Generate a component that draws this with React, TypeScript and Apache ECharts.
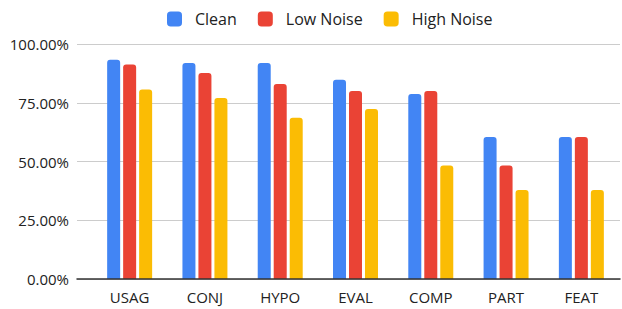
import React, { useEffect, useRef } from "react";
import * as echarts from "echarts";

const categories = ["USAG", "CONJ", "HYPO", "EVAL", "COMP", "PART", "FEAT"];
const seriesNames = ["Clean", "Low Noise", "High Noise"];
const clean = [0.933, 0.919, 0.919, 0.848, 0.787, 0.604, 0.604];
const lowNoise = [0.913, 0.877, 0.83, 0.8, 0.8, 0.483, 0.604];
const highNoise = [0.806, 0.77, 0.686, 0.723, 0.483, 0.379, 0.379];
const yTicks = [0, 0.25, 0.5, 0.75, 1];
const colors = ["#4285F4", "#EA4335", "#FBBC04"];

const FONT = "'Open Sans', sans-serif";

export default function App() {
  const ref = useRef<HTMLDivElement>(null);
  useEffect(() => {
    if (!ref.current) return;
    const chart = echarts.init(ref.current, undefined, { renderer: "svg" });
    const values = [clean, lowNoise, highNoise];
    chart.setOption({
      animation: false,
      backgroundColor: "#ffffff",
      textStyle: { fontFamily: FONT },
      legend: {
        left: 162,
        top: 6,
        itemWidth: 15,
        itemHeight: 15,
        itemGap: 21,
        icon: "roundRect",
        data: seriesNames,
        textStyle: { fontSize: 16, color: "#222", fontFamily: FONT, padding: [0, 0, 0, 8] },
      },
      grid: [
        { left: 77, right: 2, top: 44, bottom: 30, containLabel: false },
        { left: 92, right: 3, top: 44, bottom: 30, containLabel: false },
      ],
      xAxis: [
        {
          gridIndex: 0,
          type: "value",
          min: 0,
          max: 1,
          z: 5,
          axisLine: { show: true, onZero: false, lineStyle: { color: "#333", width: 1.5 } },
          axisTick: { show: false },
          axisLabel: { show: false },
          splitLine: { show: false },
        },
        {
          gridIndex: 1,
          type: "category",
          data: categories,
          axisLine: { show: false },
          axisTick: { show: false },
          axisLabel: { fontSize: 15, lineHeight: 15, color: "#222", margin: 10, fontFamily: FONT },
        },
      ],
      yAxis: [
        {
          gridIndex: 0,
          type: "value",
          min: 0,
          max: 1,
          interval: 0.25,
          axisLine: { show: false },
          axisTick: { show: false },
          axisLabel: {
            fontSize: 15,
            color: "#222",
            margin: 8,
            fontFamily: FONT,
            formatter: (v: number) => (yTicks.includes(v) ? (v * 100).toFixed(2) + "%" : ""),
          },
          splitLine: { lineStyle: { color: "#cccccc", width: 1.2 } },
        },
        {
          gridIndex: 1,
          type: "value",
          min: 0,
          max: 1,
          show: false,
          splitLine: { show: false },
        },
      ],
      series: seriesNames.map((name, i) => ({
        name,
        type: "bar",
        xAxisIndex: 1,
        yAxisIndex: 1,
        data: values[i],
        barWidth: 13,
        barGap: "23%",
        itemStyle: { color: colors[i], borderRadius: [3, 3, 0, 0] },
      })),
    });
    return () => chart.dispose();
  }, []);
  return (
    <div
      ref={ref}
      style={{ position: "fixed", left: 0, top: 0, width: 622, height: 309 }}
    />
  );
}
